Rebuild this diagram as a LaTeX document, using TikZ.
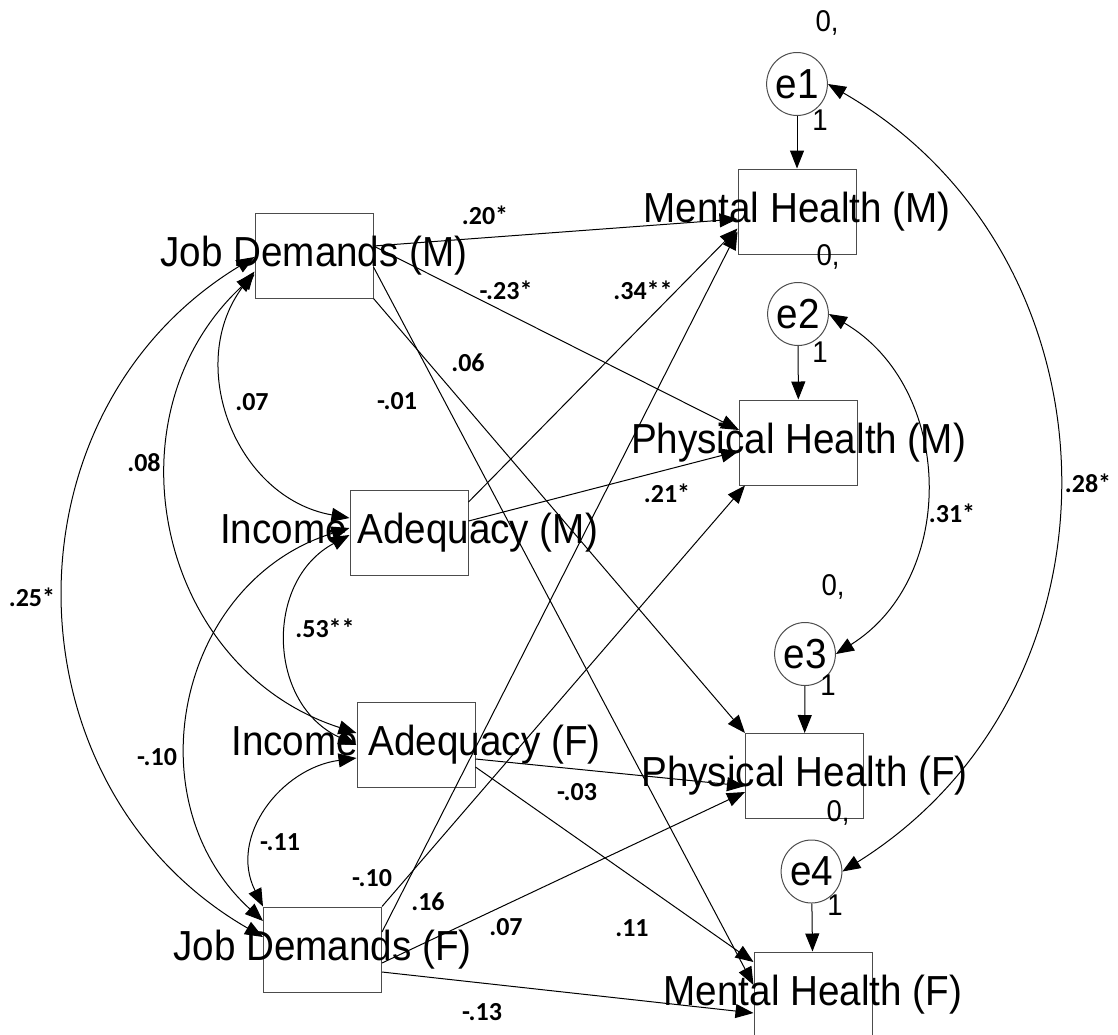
\documentclass[tikz,border=0pt]{standalone}
\usepackage{fontspec}
\setmainfont{Liberation Sans}
\newfontfamily\coeffont{Carlito}
\newfontfamily\namefont{Liberation Sans}[FakeStretch=0.92]
\usetikzlibrary{arrows.meta,calc,shapes.geometric}

\begin{document}
\begin{tikzpicture}[x=0.5pt,y=-0.5pt,
  bigtext/.style={font=\namefont\fontsize{21}{24}\selectfont},
  box/.style={draw=black!70,line width=0.5pt,minimum width=59pt,minimum height=42.5pt,
    inner sep=0pt,label={[bigtext]center:#1}},
  err/.style={draw=black!70,line width=0.5pt,ellipse,minimum width=28.5pt,minimum height=31.5pt,
    inner sep=0pt,bigtext},
  regr/.style={-{Triangle[length=9pt,width=7pt]},line width=0.5pt},
  cov/.style={{Triangle[length=9pt,width=7pt]}-{Triangle[length=9pt,width=7pt]},line width=0.5pt},
  coef/.style={font=\coeffont\bfseries\fontsize{13}{15}\selectfont},
  small/.style={font=\namefont\fontsize{15}{17}\selectfont}]
\useasboundingbox (0,0) rectangle (1118,1034);

% observed variables
\node[box={Job Demands (M)}] (JDM) at (314,255.5) {};
\node[box={Income Adequacy (M)}] (IAM) at (409,532.5) {};
\node[box={Income Adequacy (F)}] (IAF) at (416,745) {};
\node[box={Job Demands (F)}] (JDF) at (322.5,949.5) {};
\node[box={Mental Health (M)}] (MHM) at (797,211.5) {};
\node[box={Physical Health (M)}] (PHM) at (798.5,442.5) {};
\node[box={Physical Health (F)}] (PHF) at (804.5,776) {};
\node[box={Mental Health (F)}] (MHF) at (813,994.5) {};

% error terms
\foreach \e/\x/\y in {e1/797/84, e2/798/314, e3/805/654, e4/811.5/871.5}
  \node[err] (\e) at (\x,\y) {\e};
\foreach \e/\v in {e1/MHM, e2/PHM, e3/PHF, e4/MHF}
  \draw[regr] (\e) -- (\v);

\node[small] (i1) at (827,23) {0,};
\node[small] (i2) at (828,257) {0,};
\node[small] (i3) at (833,587) {0,};
\node[small] (i4) at (838,813) {0,};
\node[small] (f1) at (820,120) {1};
\node[small] (f2) at (820,352) {1};
\node[small] (f3) at (828,685) {1};
\node[small] (f4) at (835,905) {1};

% regression paths
\draw[regr] ($(JDM.east)+(0,-9.5)$) -- ($(MHM.west)+(0,7.5)$);
\draw[regr] ($(JDM.east)+(0,-9.5)$) -- ($(PHM.west)+(0,-12.5)$);
\draw[regr] (JDM.south east) -- (PHF.north west);
\draw[regr] ($(JDM.east)+(0,11.5)$) -- ($(MHF.west)+(0,-9.5)$);
\draw[regr] ($(IAM.east)+(0,-30.5)$) -- ($(MHM.west)+(0,17)$);
\draw[regr] ($(IAM.east)+(0,-11.5)$) -- ($(PHM.west)+(0,8.5)$);
\draw[regr] ($(IAF.east)+(0,14)$) -- ($(PHF.west)+(0,10)$);
\draw[regr] ($(IAF.east)+(0,22)$) -- ($(MHF.west)+(0,-32.5)$);
\draw[regr] ($(JDF.east)+(0,-17.5)$) -- ($(MHM.west)+(0,20)$);
\draw[regr] (JDF.north east) -- ($(PHM.south west)+(6,0)$);
\draw[regr] ($(JDF.east)+(0,13.5)$) -- ($(PHF.west)+(0,16)$);
\draw[regr] ($(JDF.east)+(0,22.5)$) -- ($(MHF.west)+(0,18.5)$);

% covariances
\draw[cov] ($(JDM.west)+(0,16)$) .. controls +(-71,92) and +(-114,-20) .. ($(IAM.west)+(0,-14.5)$);
\draw[cov] ($(JDM.west)+(0,19)$) .. controls +(-152,142) and +(-198,-64) .. ($(IAF.west)+(0,-12)$);
\draw[cov] ($(JDM.west)+(0,1.5)$) .. controls +(-257,156) and +(-260,-150) .. ($(JDF.west)+(0,-12.5)$);
\draw[cov] ($(IAM.west)+(0,2.5)$) .. controls +(-86,46) and +(-89,-40) .. (IAF.west);
\draw[cov] ($(IAM.west)+(0,-4.5)$) .. controls +(-171,53) and +(-132,-121) .. ($(JDF.west)+(0,-28.5)$);
\draw[cov] ($(IAF.west)+(0,13)$) .. controls +(-75,10) and +(-35,-70) .. (JDF.north west);
\draw[cov] (e2.east) .. controls +(125,73) and +(123,-77) .. (e3.east);
\draw[cov] (e1.east) .. controls +(300,173) and +(294,-184) .. (e4.east);

% coefficients
\node[coef] (r1) at (485,215) {.20*};
\node[coef] (r2) at (506,290) {-.23*};
\node[coef] (r3) at (643,290) {.34**};
\node[coef] (r4) at (468,363) {.06};
\node[coef] (r5) at (397,401) {-.01};
\node[coef] (r6) at (667,493) {.21*};
\node[coef] (r7) at (577,792) {-.03};
\node[coef] (r8) at (372,878) {-.10};
\node[coef] (r9) at (428,902) {.16};
\node[coef] (r10) at (506,927) {.07};
\node[coef] (r11) at (632,928) {.11};
\node[coef] (r12) at (482,1012) {-.13};
\node[coef] (c1) at (252,402) {.07};
\node[coef] (c2) at (144,463) {.08};
\node[coef] (c3) at (32,597) {.25*};
\node[coef] (c4) at (325,628) {.53**};
\node[coef] (c5) at (157,757) {-.10};
\node[coef] (c6) at (280,842) {-.11};
\node[coef] (c7) at (952,513) {.31*};
\node[coef] (c8) at (1088,483) {.28*};

\end{tikzpicture}
\end{document}
